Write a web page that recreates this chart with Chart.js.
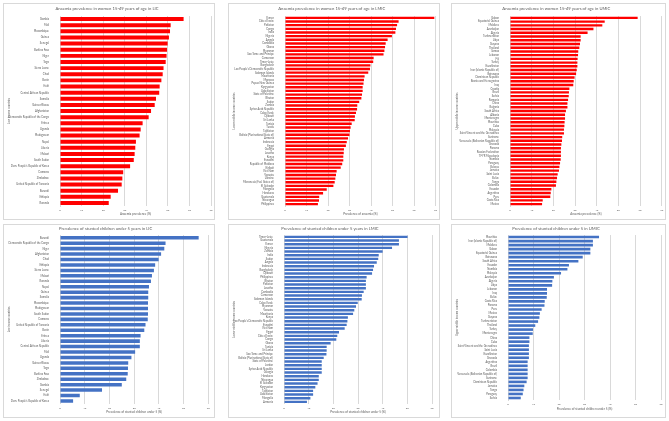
<!DOCTYPE html>
<html>
<head>
<meta charset="utf-8">
<script src="https://cdn.jsdelivr.net/npm/chart.js@4"></script>
<style>
	body { margin: 0; width: 669px; height: 421px; background: #fff; position: relative; overflow: hidden; }
	.card { position: absolute; border: 1px solid #d9d9d9; box-sizing: border-box; background: #fff; }
	.card canvas { position: absolute; left: -1px; top: -1px; }
</style>
</head>
<body>
<div class="card" style="left:3px;top:3px;width:212px;height:217px"><canvas id="licAnaemia" width="212" height="217"></canvas></div>
<div class="card" style="left:228px;top:3px;width:212px;height:217px"><canvas id="lmicAnaemia" width="212" height="217"></canvas></div>
<div class="card" style="left:451px;top:3px;width:215px;height:217px"><canvas id="umicAnaemia" width="215" height="217"></canvas></div>
<div class="card" style="left:3px;top:224px;width:212px;height:194px"><canvas id="licStunting" width="212" height="194"></canvas></div>
<div class="card" style="left:228px;top:224px;width:212px;height:194px"><canvas id="lmicStunting" width="212" height="194"></canvas></div>
<div class="card" style="left:451px;top:224px;width:215px;height:194px"><canvas id="umicStunting" width="215" height="194"></canvas></div>
<script>
const FONT = 'Lato, "Open Sans", sans-serif';
const TEXT_COLOR = '#595959';
const RED = '#FF0000';
const BLUE = '#4472C4';

// anaemia, low income
const licAnaemiaCountries = ['Gambia', 'Mali', 'Mozambique', 'Guinea', 'Senegal', 'Burkina Faso', 'Niger', 'Togo', 'Sierra Leone', 'Chad', 'Benin', 'Haiti', 'Central African Republic', 'Somalia', 'Guinea-Bissau', 'Afghanistan', 'Democratic Republic of the Congo', 'Eritrea', 'Uganda', 'Madagascar', 'Nepal', 'Liberia', 'Malawi', 'South Sudan', "Dem. People's Republic of Korea", 'Comoros', 'Zimbabwe', 'United Republic of Tanzania', 'Burundi', 'Ethiopia', 'Rwanda'];
const licAnaemiaValues = [57.3, 51.3, 51.0, 50.5, 49.9, 49.6, 49.4, 49.0, 48.0, 47.6, 47.0, 46.2, 46.0, 44.5, 43.9, 42.2, 41.1, 38.3, 37.4, 36.9, 35.2, 34.9, 34.6, 34.2, 32.5, 29.3, 28.9, 28.6, 26.9, 23.5, 22.6];

// anaemia, lower middle income
const lmicAnaemiaCountries = ['Yemen', "Côte d'Ivoire", 'Pakistan', 'Congo', 'India', 'Nigeria', 'Angola', 'Cambodia', 'Ghana', 'Myanmar', 'Sao Tome and Principe', 'Cameroon', 'Timor-Leste', 'Bangladesh', "Lao People's Democratic Republic", 'Solomon Islands', 'Mauritania', 'Morocco', 'Papua New Guinea', 'Kyrgyzstan', 'Uzbekistan', 'State of Palestine', 'Bhutan', 'Sudan', 'Zambia', 'Syrian Arab Republic', 'Cabo Verde', 'Djibouti', 'Sri Lanka', 'Tunisia', 'Tuvalu', 'Tajikistan', 'Bolivia (Plurinational State of)', 'Armenia', 'Indonesia', 'Egypt', 'Georgia', 'Lesotho', 'Kenya', 'Eswatini', 'Republic of Moldova', 'Kiribati', 'Viet Nam', 'Vanuatu', 'Ukraine', 'Micronesia (Fed. States of)', 'El Salvador', 'Mongolia', 'Honduras', 'Guatemala', 'Nicaragua', 'Philippines'];
const lmicAnaemiaValues = [69.4, 52.8, 52.1, 51.6, 51.3, 49.7, 47.7, 46.8, 46.5, 46.2, 45.8, 41.2, 41.0, 39.7, 39.5, 38.7, 37.0, 36.7, 36.5, 36.1, 36.1, 35.8, 35.5, 34.5, 33.6, 33.5, 33.0, 32.5, 32.4, 31.0, 30.5, 30.2, 30.0, 29.3, 28.7, 28.3, 27.4, 27.3, 27.1, 27.1, 26.6, 25.9, 24.0, 23.7, 23.4, 23.1, 22.5, 19.4, 17.7, 15.9, 15.8, 15.3];

// anaemia, upper middle income
const umicAnaemiaCountries = ['Gabon', 'Equatorial Guinea', 'Maldives', 'Azerbaijan', 'Algeria', 'Turkmenistan', 'Libya', 'Guyana', 'Thailand', 'Samoa', 'Lebanon', 'Fiji', 'Turkey', 'Kazakhstan', 'Iran (Islamic Republic of)', 'Botswana', 'Dominican Republic', 'Bosnia and Herzegovina', 'Iraq', 'Croatia', 'Brazil', 'Serbia', 'Romania', 'China', 'Bulgaria', 'South Africa', 'Albania', 'Montenegro', 'Mauritius', 'Cuba', 'Malaysia', 'Saint Vincent and the Grenadines', 'Suriname', 'Venezuela (Bolivarian Republic of)', 'Grenada', 'Panama', 'Russian Federation', 'TFYR Macedonia', 'Namibia', 'Paraguay', 'Belarus', 'Jamaica', 'Saint Lucia', 'Belize', 'Tonga', 'Colombia', 'Ecuador', 'Argentina', 'Peru', 'Costa Rica', 'Mexico'];
const umicAnaemiaValues = [58.9, 43.7, 42.6, 38.5, 35.8, 32.6, 32.6, 32.3, 32.0, 31.5, 31.4, 31.2, 31.1, 31.1, 30.8, 30.5, 29.8, 29.4, 29.2, 27.4, 27.2, 27.1, 26.8, 26.5, 26.5, 25.8, 25.4, 25.4, 25.2, 25.1, 24.9, 24.9, 24.1, 24.0, 23.7, 23.5, 23.5, 23.5, 23.4, 23.1, 22.8, 22.6, 22.0, 21.7, 21.4, 21.2, 19.1, 18.8, 18.6, 15.1, 14.8];

// stunting, low income
const licStuntingCountries = ['Burundi', 'Democratic Republic of the Congo', 'Niger', 'Afghanistan', 'Chad', 'Ethiopia', 'Sierra Leone', 'Malawi', 'Rwanda', 'Nepal', 'Guinea', 'Somalia', 'Mozambique', 'Madagascar', 'South Sudan', 'Comoros', 'United Republic of Tanzania', 'Benin', 'Eritrea', 'Liberia', 'Central African Republic', 'Mali', 'Uganda', 'Guinea-Bissau', 'Togo', 'Burkina Faso', 'Zimbabwe', 'Gambia', 'Senegal', 'Haiti', "Dem. People's Republic of Korea"];
const licStuntingValues = [56.1, 42.7, 42.2, 40.9, 39.9, 38.5, 38.0, 37.2, 36.8, 36.0, 35.7, 35.7, 35.6, 35.6, 35.6, 35.5, 34.6, 34.1, 32.6, 32.3, 32.3, 30.4, 28.9, 27.6, 27.5, 27.4, 26.8, 25.0, 17.0, 8.0, 5.3];

// stunting, lower middle income
const lmicStuntingCountries = ['Timor-Leste', 'Guatemala', 'Yemen', 'Nigeria', 'Zambia', 'India', 'Sudan', 'Angola', 'Indonesia', 'Bangladesh', 'Djibouti', 'Philippines', 'Bhutan', 'Pakistan', 'Lesotho', 'Cambodia', 'Cameroon', 'Solomon Islands', 'Cabo Verde', 'Myanmar', 'Vanuatu', 'Mauritania', 'Kenya', "Lao People's Democratic Republic", 'Eswatini', 'Viet Nam', 'Egypt', "Côte d'Ivoire", 'Congo', 'Ghana', 'Tunisia', 'Sri Lanka', 'Sao Tome and Principe', 'Bolivia (Plurinational State of)', 'State of Palestine', 'Jordan', 'Syrian Arab Republic', 'Georgia', 'Honduras', 'Nicaragua', 'El Salvador', 'Kyrgyzstan', 'Tajikistan', 'Uzbekistan', 'Mongolia', 'Armenia'];
const lmicStuntingValues = [50.1, 46.6, 46.6, 43.8, 40.0, 38.4, 38.2, 37.6, 36.5, 36.1, 35.7, 33.5, 33.2, 33.2, 33.2, 32.3, 31.6, 31.5, 29.9, 29.2, 28.5, 28.0, 25.9, 25.7, 25.4, 24.6, 22.3, 21.6, 21.2, 18.9, 17.3, 17.3, 17.2, 16.1, 15.3, 15.3, 15.3, 15.3, 14.1, 14.1, 13.6, 12.7, 11.8, 11.8, 10.7, 9.3];

// stunting, upper middle income
const umicStuntingCountries = ['Mauritius', 'Iran (Islamic Republic of)', 'Maldives', 'Gabon', 'Equatorial Guinea', 'Botswana', 'South Africa', 'Ecuador', 'Namibia', 'Malaysia', 'Azerbaijan', 'Algeria', 'Libya', 'Lebanon', 'Iraq', 'Belize', 'Costa Rica', 'Panama', 'Peru', 'Mexico', 'Guyana', 'Turkmenistan', 'Thailand', 'Turkey', 'Montenegro', 'China', 'Cuba', 'Saint Vincent and the Grenadines', 'Saint Lucia', 'Kazakhstan', 'Grenada', 'Argentina', 'Brazil', 'Colombia', 'Venezuela (Bolivarian Republic of)', 'Suriname', 'Dominican Republic', 'Jamaica', 'Tonga', 'Paraguay', 'Serbia'];
const umicStuntingValues = [35.7, 33.3, 33.3, 32.3, 32.3, 29.3, 27.6, 23.9, 23.3, 20.8, 18.0, 17.4, 17.3, 15.3, 15.3, 15.2, 14.4, 14.3, 13.2, 12.5, 12.3, 11.8, 10.7, 9.8, 9.7, 8.4, 8.4, 8.2, 8.2, 8.2, 8.2, 7.7, 7.7, 7.7, 7.7, 7.7, 7.3, 6.4, 6.1, 5.8, 5.0];

function makeChart(id, labels, values, o) {
	const ctx = document.getElementById(id).getContext('2d');
	return new Chart(ctx, {
		type: 'bar',
		data: {
			labels: labels,
			datasets: [
				{
					data: values,
					backgroundColor: o.color,
					barPercentage: 0.65,
					categoryPercentage: 1,
				},
			],
		},
		options: {
			indexAxis: 'y',
			responsive: false,
			animation: false,
			layout: { padding: { left: 0, right: o.padRight, top: 0, bottom: 0 } },
			plugins: {
				legend: { display: false },
				tooltip: { enabled: false },
				title: {
					display: true,
					text: o.title,
					color: TEXT_COLOR,
					font: { family: FONT, size: 4.2, weight: 'normal' },
					padding: { top: o.titleTop, bottom: o.titleBottom },
				},
			},
			scales: {
				x: {
					min: 0,
					max: o.max,
					ticks: {
						stepSize: 10,
						color: TEXT_COLOR,
						padding: 2.4,
						maxRotation: 0,
						font: { family: FONT, size: 2.6 },
					},
					grid: { color: '#d9d9d9', drawTicks: false },
					border: { display: false },
					title: {
						display: true,
						text: o.xTitle,
						color: TEXT_COLOR,
						font: { family: FONT, size: 3 },
						padding: { top: 0, bottom: o.xTitleBottom },
					},
					afterFit: s => {
						s.height = o.xAxisH;
					},
				},
				y: {
					ticks: {
						autoSkip: false,
						color: TEXT_COLOR,
						padding: 3,
						font: { family: FONT, size: 2.7 },
					},
					grid: { display: false },
					border: { display: true, color: '#d9d9d9' },
					title: {
						display: true,
						text: o.yTitle,
						color: TEXT_COLOR,
						font: { family: FONT, size: 2.7 },
						padding: { top: 5, bottom: 0 },
					},
					afterFit: s => {
						s.width = o.yAxisW;
					},
				},
			},
		},
	});
}

const TOP = { titleTop: 3.5, titleBottom: 4.5, xAxisH: 14, xTitleBottom: 4.2 };
const BOTTOM = { titleTop: 2.5, titleBottom: 3.5, xAxisH: 14.3, xTitleBottom: 4.5 };

makeChart('licAnaemia', licAnaemiaCountries, licAnaemiaValues, {
	...TOP,
	color: RED,
	max: 70,
	title: 'Anaemia prevalence in women 15-49 years of age in LIC',
	xTitle: 'Anaemia prevalence (%)',
	yTitle: 'Low income countries',
	yAxisW: 57,
	padRight: 4,
});

makeChart('lmicAnaemia', lmicAnaemiaCountries, lmicAnaemiaValues, {
	...TOP,
	color: RED,
	max: 70,
	title: 'Anaemia prevalence in women 15-49 years of age in LMIC',
	xTitle: 'Prevalence of anaemia (%)',
	yTitle: 'Lower middle income countries',
	yAxisW: 57,
	padRight: 4.4,
});

makeChart('umicAnaemia', umicAnaemiaCountries, umicAnaemiaValues, {
	...TOP,
	color: RED,
	max: 70,
	title: 'Anaemia prevalence in women 15-49 years of age in UMIC',
	xTitle: 'Anaemia prevalence (%)',
	yTitle: 'Upper middle income countries',
	yAxisW: 59,
	padRight: 4.3,
});

makeChart('licStunting', licStuntingCountries, licStuntingValues, {
	...BOTTOM,
	color: BLUE,
	max: 60,
	title: 'Prevalence of stunted children under 5 years in LIC',
	xTitle: 'Prevalence of stunted children under 5 (%)',
	yTitle: 'Low income countries',
	yAxisW: 57,
	padRight: 6.7,
});

makeChart('lmicStunting', lmicStuntingCountries, lmicStuntingValues, {
	...BOTTOM,
	color: BLUE,
	max: 60,
	title: 'Prevalence of stunted children under 5 years in LMIC',
	xTitle: 'Prevalence of stunted children under 5 (%)',
	yTitle: 'Lower middle income countries',
	yAxisW: 56,
	padRight: 8,
});

makeChart('umicStunting', umicStuntingCountries, umicStuntingValues, {
	...BOTTOM,
	xAxisH: 18,
	xTitleBottom: 7.5,
	color: BLUE,
	max: 60,
	title: 'Prevalence of stunted children under 5 in UMIC',
	xTitle: 'Prevalence of stunted children under 5 (%)',
	yTitle: 'Upper middle income countries',
	yAxisW: 57,
	padRight: 5,
});
</script>
</body>
</html>
